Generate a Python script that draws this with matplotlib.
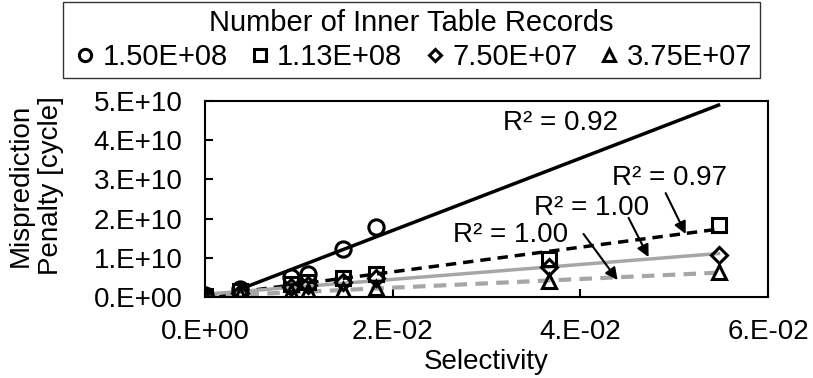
import matplotlib.pyplot as plt
import numpy as np
from matplotlib.ticker import FuncFormatter, MultipleLocator

plt.rcParams['font.family'] = ['Liberation Sans', 'DejaVu Sans']

# selectivity values
sel = [0.0, 0.0037, 0.0092, 0.011, 0.0147, 0.0182, 0.0366, 0.0547]

# misprediction penalty [cycle] for each inner table size
rec_150 = [0.5e9, 2.0e9, 5.2e9, 6.0e9, 1.22e10, 1.78e10]
rec_113 = [0.3e9, 1.5e9, 3.3e9, 3.8e9, 4.8e9, 5.8e9, 9.8e9, 1.85e10]
rec_075 = [0.2e9, 1.0e9, 2.5e9, 3.0e9, 3.9e9, 4.8e9, 7.8e9, 1.07e10]
rec_038 = [0.1e9, 0.5e9, 1.2e9, 1.5e9, 1.9e9, 2.4e9, 4.0e9, 6.3e9]

labels = ['1.50E+08', '1.13E+08', '7.50E+07', '3.75E+07']
r2_labels = ['R² = 0.92', 'R² = 0.97', 'R² = 1.00', 'R² = 1.00']


def excel_fmt(v, pos=None):
    if abs(v) < 1e-30:
        return '0.E+00'
    e = int(np.floor(np.log10(abs(v)) + 1e-9))
    m = int(round(v / 10 ** e))
    return '%d.E%+03d' % (m, e)


fig = plt.figure(figsize=(8.13, 3.78), dpi=100)
ax = fig.add_axes([0.252, 0.214, 0.693, 0.519])

series = [rec_150, rec_113, rec_075, rec_038]
markers = ['o', 's', 'D', '^']
msizes = [11, 10, 8, 10]
line_styles = [('black', '-', 2.5), ('black', (0, (3, 2)), 2.5),
               ('#a6a6a6', '-', 2.5), ('#a6a6a6', (0, (3, 2)), 3.0)]

# linear trendlines
xfit = np.array([0.0, sel[-1]])
for ys, (c, ls, lw) in zip(series, line_styles):
    xs = np.array(sel[:len(ys)])
    p = np.polyfit(xs, np.array(ys), 1)
    ax.plot(xfit, np.polyval(p, xfit), color=c, linestyle=ls, linewidth=lw, zorder=2)

for ys, mk, ms, lab in zip(series, markers, msizes, labels):
    ax.plot(sel[:len(ys)], ys, linestyle='none', marker=mk, markersize=ms,
            markerfacecolor='none', markeredgecolor='black', markeredgewidth=2.2,
            label=lab, zorder=3)

ax.set_xlim(0, 0.06)
ax.set_ylim(0, 5e10)
ax.xaxis.set_major_locator(MultipleLocator(0.02))
ax.yaxis.set_major_locator(MultipleLocator(1e10))
ax.xaxis.set_major_formatter(FuncFormatter(excel_fmt))
ax.yaxis.set_major_formatter(FuncFormatter(excel_fmt))
ax.tick_params(direction='in', length=6, width=1.5, labelsize=20, pad=16)
for s in ax.spines.values():
    s.set_linewidth(1.5)

ax.set_xlabel('Selectivity', fontsize=20, labelpad=3)
ax.set_ylabel('Misprediction\nPenalty [cycle]', fontsize=20)
ax.yaxis.set_label_coords(-0.25, 0.57)

# R² annotations (positions in data coords)
ax.text(0.0379, 4.44e10, r2_labels[0], fontsize=20, ha='center', va='center')
ann = [((0.0495, 3.04e10), (0.04907, 2.65e10), (0.0512, 1.61e10)),
       ((0.0412, 2.27e10), (0.04512, 2.02e10), (0.04725, 1.02e10)),
       ((0.0326, 1.58e10), (0.04032, 1.61e10), (0.04395, 4.34e9))]
for txt, (tpos, tail, head) in zip(r2_labels[1:], ann):
    ax.text(tpos[0], tpos[1], txt, fontsize=20, ha='center', va='center')
    ax.annotate('', xy=head, xytext=tail,
                arrowprops=dict(arrowstyle='-|>', color='black', lw=1.5,
                                mutation_scale=18, shrinkA=0, shrinkB=0))

leg = fig.legend(loc='upper center', bbox_to_anchor=(0.506, 0.995), ncol=4,
                 title='Number of Inner Table Records', fontsize=21,
                 title_fontsize=21, frameon=True, fancybox=False,
                 handletextpad=0.1, columnspacing=0.6, handlelength=1.0,
                 borderpad=0.25, labelspacing=0.2, borderaxespad=0,
                 markerscale=0.8)
leg.get_frame().set_edgecolor('black')
leg.get_frame().set_linewidth(1.0)

plt.savefig('out.png', dpi=100)
